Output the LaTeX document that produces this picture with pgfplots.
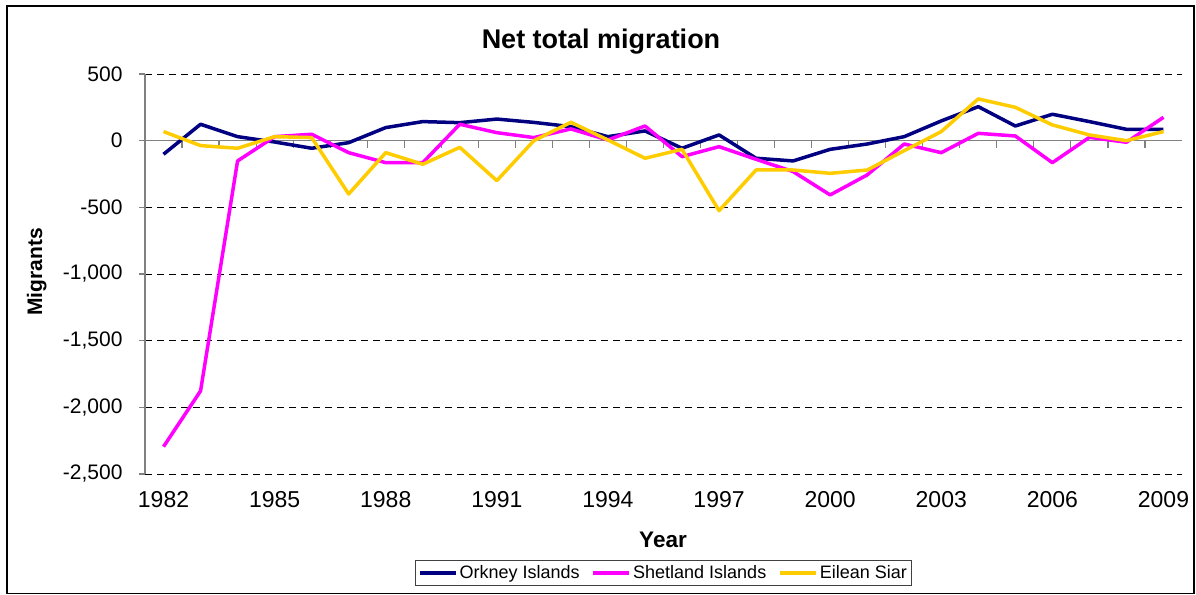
\documentclass[border=0pt]{standalone}
\usepackage{pgfplots}
\pgfplotsset{compat=1.18}
\usepackage{pgfplotstable}
\usepackage{fontspec}
\setmainfont{Liberation Sans}
\definecolor{orkney}{RGB}{0,0,128}
\definecolor{shetland}{RGB}{255,0,255}
\definecolor{eilean}{RGB}{255,204,0}
\definecolor{axgray}{RGB}{128,128,128}

\pgfplotstableread{
year orkney shetland eilean
1982 -102 -2295 68
1983 123 -1877 -37
1984 30 -152 -57
1985 -10 30 30
1986 -57 48 23
1987 -15 -90 -400
1988 98 -165 -90
1989 143 -165 -177
1990 135 123 -50
1991 162 60 -300
1992 137 23 0
1993 105 88 138
1994 30 5 5
1995 73 110 -132
1996 -57 -120 -65
1997 43 -45 -525
1998 -132 -140 -220
1999 -152 -232 -220
2000 -65 -407 -245
2001 -25 -257 -220
2002 30 -25 -75
2003 148 -90 68
2004 255 55 313
2005 110 35 250
2006 198 -165 118
2007 143 25 43
2008 85 -12 0
2009 85 175 68
}\migr

\begin{document}
\begin{tikzpicture}
\useasboundingbox (0pt,0pt) rectangle (1196pt,594pt);
\draw[line width=1.2pt] (7pt,0.6pt) rectangle (1194pt,588pt);
% zero line with category tick marks
\begin{axis}[
  scale only axis, width=1037pt, height=400pt,
  at={(145pt,120pt)}, anchor=south west,
  xmin=1981.5, xmax=2009.5, ymin=-2500, ymax=500,
  axis x line=middle, axis y line=none,
  x axis line style={-, axgray, line width=1.5pt},
  xtick={1982.5,1983.5,...,2008.5}, xticklabels=\empty,
  xtick align=outside, major tick length=7pt,
  xtick style={axgray, line width=1.2pt},
]
\end{axis}
\begin{axis}[
  scale only axis, width=1037pt, height=400pt,
  at={(145pt,120pt)}, anchor=south west,
  xmin=1981.5, xmax=2009.5, ymin=-2500, ymax=500,
  axis lines*=left,
  x axis line style={draw=none},
  y axis line style={-, axgray, line width=1.5pt},
  xtick={1982,1985,...,2009},
  xticklabels={1982,1985,1988,1991,1994,1997,2000,2003,2006,2009},
  xtick style={draw=none},
  ytick={-2500,-2000,-1500,-1000,-500,500},
  yticklabels={{-2,500},{-2,000},{-1,500},{-1,000},{-500},{500}},
  extra y ticks={0}, extra y tick labels={0},
  extra y tick style={grid=none},
  ytick style={axgray, line width=1.2pt},
  tick align=outside, major tick length=6pt,
  ymajorgrids,
  major grid style={black, line width=0.9pt, dash pattern=on 7pt off 5pt},
  yticklabel style={font=\fontsize{21}{24}\selectfont, xshift=-13pt},
  xticklabel style={font=\fontsize{23}{26}\selectfont, yshift=-8pt},
  legend style={at={(0.5,-0.2150)}, anchor=north, legend columns=3,
    draw=black!75, line width=1pt, font=\fontsize{18}{21}\selectfont,
    inner sep=3pt,
    /tikz/every even column/.append style={column sep=10pt}},
  legend image code/.code={\draw[#1, line width=3.5pt] (0pt,0pt) -- (36pt,0pt);},
]
\addplot[orkney, line width=3.5pt, line join=round] table[x=year,y=orkney]{\migr};
\addplot[shetland, line width=3.5pt, line join=round] table[x=year,y=shetland]{\migr};
\addplot[eilean, line width=3.5pt, line join=round] table[x=year,y=eilean]{\migr};
\legend{Orkney Islands, Shetland Islands, Eilean Siar}
\end{axis}
\node[anchor=base, font=\fontsize{27}{31}\selectfont\bfseries] at (601pt,545.3pt) {Net total migration};
\node[anchor=base, font=\fontsize{22.5}{26}\selectfont\bfseries] at (663pt,46.7pt) {Year};
\node[anchor=base, rotate=90, font=\fontsize{21}{24}\selectfont\bfseries] at (42pt,322pt) {Migrants};
\end{tikzpicture}
\end{document}
